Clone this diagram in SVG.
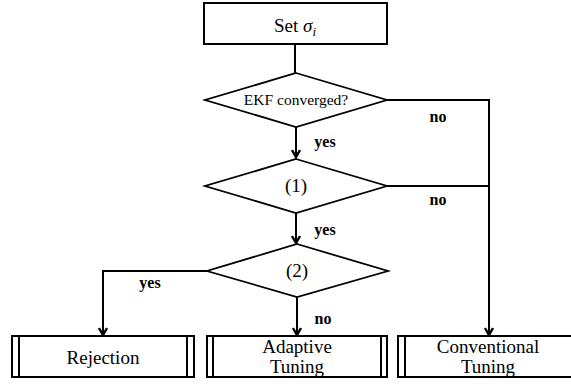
<svg xmlns="http://www.w3.org/2000/svg" width="571" height="387" viewBox="0 0 571 387">
<defs>
<marker id="arr" viewBox="0 0 10 10" refX="8" refY="5" markerWidth="10" markerHeight="10" orient="auto" markerUnits="userSpaceOnUse">
<path d="M1,1 L8,5 L1,9" fill="none" stroke="#000" stroke-width="2.4"/>
</marker>
<style>
.box{fill:#fff;stroke:#000;stroke-width:2}
.dia{fill:#fff;stroke:#000;stroke-width:1.8}
.ln{fill:none;stroke:#000;stroke-width:2}
text{font-family:"Liberation Serif","Times New Roman",serif;fill:#000;text-anchor:middle}
.lb{font-weight:bold;font-size:16px}
</style>
</defs>
<g id="connectors">
<path class="ln" d="M295,44 V73"/>
<path class="ln" d="M296,127 V157" marker-end="url(#arr)"/>
<path class="ln" d="M296,213 V243" marker-end="url(#arr)"/>
<path class="ln" d="M387,100 H489 V335" marker-end="url(#arr)"/>
<path class="ln" d="M387,186 H489"/>
<path class="ln" d="M207,271 H103 V335" marker-end="url(#arr)"/>
<path class="ln" d="M297,297 V335" marker-end="url(#arr)"/>
<text class="lb" x="325" y="147">yes</text>
<text class="lb" x="438" y="122">no</text>
<text class="lb" x="325" y="235">yes</text>
<text class="lb" x="438" y="205">no</text>
<text class="lb" x="150" y="288">yes</text>
<text class="lb" x="323" y="324">no</text>
</g>
<g id="set">
<rect class="box" x="204" y="3" width="183" height="41"/>
<text x="295" y="32" font-size="19">Set <tspan font-style="italic">σ</tspan><tspan font-style="italic" font-size="13" dy="4">i</tspan></text>
</g>
<g id="ekf">
<polygon class="dia" points="296,73 387,100 296,127 205,100"/>
<text x="296" y="105" font-size="15.5">EKF converged?</text>
</g>
<g id="cond1">
<polygon class="dia" points="296,159 387,186 296,213 205,186"/>
<text x="296" y="192" font-size="19">(1)</text>
</g>
<g id="cond2">
<polygon class="dia" points="297,244 388,271 297,297 207,271"/>
<text x="297" y="277" font-size="19">(2)</text>
</g>
<g id="rejection">
<rect class="box" x="12" y="336" width="182" height="41"/>
<path class="ln" d="M19,336 V377 M187,336 V377"/>
<text x="103" y="364" font-size="19">Rejection</text>
</g>
<g id="adaptive">
<rect class="box" x="207" y="336" width="180" height="41"/>
<path class="ln" d="M213,336 V377 M381,336 V377"/>
<text x="297" y="353" font-size="19">Adaptive</text>
<text x="297" y="373" font-size="19">Tuning</text>
</g>
<g id="conventional">
<rect class="box" x="398" y="336" width="182" height="41"/>
<path class="ln" d="M405,336 V377"/>
<text x="488" y="353" font-size="19">Conventional</text>
<text x="488" y="373" font-size="19">Tuning</text>
</g>
</svg>
